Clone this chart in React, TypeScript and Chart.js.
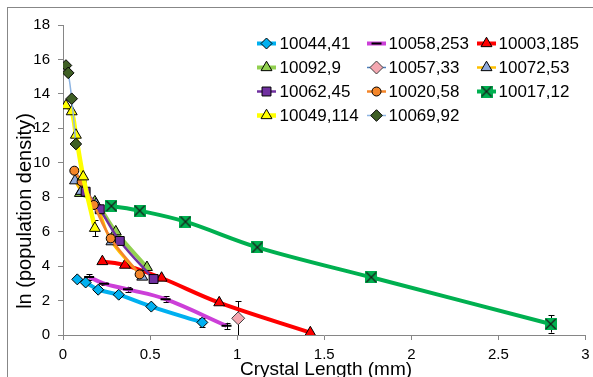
import React, { useEffect, useRef } from 'react';
import { Chart, registerables } from 'chart.js';
import { drawPoint } from 'chart.js/helpers';

Chart.register(...registerables);

const FONT = '"Liberation Sans", Arial, sans-serif';

const seriesNames = ['10044,41', '10058,253', '10003,185', '10092,9', '10057,33', '10072,53', '10062,45', '10020,58', '10017,12', '10049,114', '10069,92'];

const xTicks = [0, 0.5, 1, 1.5, 2, 2.5, 3];
const yTicks = [0, 2, 4, 6, 8, 10, 12, 14, 16, 18];

const x10044 = [0.082, 0.13, 0.202, 0.32, 0.507, 0.8];
const y10044 = [3.23, 3.05, 2.63, 2.34, 1.65, 0.73];
const e10044 = [0, 0, 0, 0, 0, 0.26];

const x10058 = [0.15, 0.236, 0.373, 0.589, 0.939];
const y10058 = [3.37, 2.98, 2.65, 2.08, 0.53];
const e10058 = [0.15, 0.1, 0.15, 0.17, 0.18];

const x10003 = [0.226, 0.356, 0.566, 0.897, 1.42];
const y10003 = [4.27, 4.06, 3.31, 1.88, 0.14];

const x10092 = [0.097, 0.183, 0.303, 0.482];
const y10092 = [8.23, 7.74, 6.0, 3.93];

const x10057 = [1.006];
const y10057 = [0.97];
const e10057 = [1.0];

const x10072 = [0.069, 0.105, 0.19, 0.278, 0.455];
const y10072 = [8.96, 8.35, 7.6, 5.42, 3.37];

const x10062 = [0.13, 0.211, 0.326, 0.52];
const y10062 = [8.32, 7.3, 5.46, 3.25];

const x10020 = [0.065, 0.107, 0.177, 0.274, 0.44];
const y10020 = [9.54, 8.9, 7.55, 5.61, 3.52];

const x10017 = [0.278, 0.44, 0.703, 1.116, 1.77, 2.8];
const y10017 = [7.49, 7.22, 6.58, 5.09, 3.35, 0.64];
const e10017 = [0, 0, 0, 0, 0, 0.5];

const x10049 = [0.017, 0.05, 0.074, 0.116, 0.183];
const y10049 = [13.32, 12.97, 11.61, 9.19, 6.2];
const e10049 = [0, 0, 0, 0, 0.45];

const x10069 = [0.017, 0.03, 0.05, 0.074];
const y10069 = [15.65, 15.22, 13.72, 11.09];

function pts(xs: number[], ys: number[]) {
  return xs.map((x, i) => ({ x, y: ys[i] }));
}

function makeXSquare(): HTMLCanvasElement {
  const c = document.createElement('canvas');
  c.width = 12;
  c.height = 12;
  const g = c.getContext('2d')!;
  g.fillStyle = '#00B050';
  g.fillRect(0, 0, 12, 12);
  g.strokeStyle = '#1a1a1a';
  g.lineWidth = 1.2;
  g.beginPath();
  g.moveTo(1, 1);
  g.lineTo(11, 11);
  g.moveTo(11, 1);
  g.lineTo(1, 11);
  g.stroke();
  return c;
}

export default function App() {
  const ref = useRef<HTMLCanvasElement | null>(null);

  useEffect(() => {
    document.body.style.margin = '0';
    const canvas = ref.current!;
    const xSquare = makeXSquare();

    const mk = (
      i: number,
      xs: number[],
      ys: number[],
      lineColor: string,
      lineWidth: number,
      style: any,
      fill: string,
      radius: number,
      errs?: number[],
      border = '#000000',
      bw = 1
    ) => ({
      label: seriesNames[i],
      data: pts(xs, ys),
      showLine: true,
      tension: 0.35,
      borderColor: lineColor,
      borderWidth: lineWidth,
      backgroundColor: fill,
      pointStyle: style,
      pointRadius: radius,
      pointBackgroundColor: fill,
      pointBorderColor: border,
      pointBorderWidth: bw,
      order: -i,
      errs: errs || [],
    });

    const datasets: any[] = [
      mk(0, x10044, y10044, '#00B0F0', 4, 'rectRot', '#00B0F0', 5.5, e10044),
      mk(1, x10058, y10058, '#CC3FD8', 4, 'line', '#000000', 5, e10058, '#000000', 2),
      mk(2, x10003, y10003, '#FF0000', 4, 'triangle', '#FF0000', 6.3),
      mk(3, x10092, y10092, '#92D050', 4, 'triangle', '#92D050', 6.3),
      mk(4, x10057, y10057, '#4F81BD', 1.5, 'rectRot', '#F4A7B0', 6.5, e10057, '#404040', 1),
      mk(5, x10072, y10072, '#FFC000', 2.5, 'triangle', '#8EA9DB', 6.3),
      mk(6, x10062, y10062, '#7030A0', 2.5, 'rect', '#7030A0', 6.3),
      mk(7, x10020, y10020, '#F4862A', 2.5, 'circle', '#F4862A', 4.5),
      mk(8, x10017, y10017, '#00B050', 4, xSquare, '#00B050', 6, e10017),
      mk(9, x10049, y10049, '#FFFF00', 4.5, 'triangle', '#FFFF00', 6.3, e10049),
      mk(10, x10069, y10069, '#8DB4E2', 1.5, 'rectRot', '#3F5F25', 5.8),
    ];

    const errorBars = {
      id: 'errorBars',
      beforeDatasetsDraw(chart: any) {
        const ctx = chart.ctx;
        const xs = chart.scales.x;
        const ys = chart.scales.y;
        ctx.save();
        ctx.strokeStyle = '#000000';
        ctx.lineWidth = 1;
        chart.data.datasets.forEach((ds: any) => {
          (ds.errs || []).forEach((e: number, j: number) => {
            if (!e) return;
            const p = ds.data[j];
            const px = Math.round(xs.getPixelForValue(p.x)) + 0.5;
            const y1 = ys.getPixelForValue(Math.max(0, p.y - e));
            const y2 = ys.getPixelForValue(p.y + e);
            ctx.beginPath();
            ctx.moveTo(px, y1);
            ctx.lineTo(px, y2);
            ctx.moveTo(px - 3, Math.round(y2) + 0.5);
            ctx.lineTo(px + 3, Math.round(y2) + 0.5);
            if (p.y - e > 0) {
              ctx.moveTo(px - 3, Math.round(y1) + 0.5);
              ctx.lineTo(px + 3, Math.round(y1) + 0.5);
            }
            ctx.stroke();
          });
        });
        ctx.restore();
      },
    };

    const decor = {
      id: 'decor',
      afterDraw(chart: any) {
        const ctx = chart.ctx;
        ctx.save();
        ctx.strokeStyle = '#878787';
        ctx.lineWidth = 1;
        ctx.strokeRect(7.5, 7.5, 700, 500);

        ctx.fillStyle = '#000000';
        ctx.font = `19px ${FONT}`;
        ctx.textAlign = 'center';
        ctx.textBaseline = 'alphabetic';
        ctx.fillText('Crystal Length (mm)', 326, 375);
        ctx.save();
        ctx.font = `20px ${FONT}`;
        ctx.translate(31, 211);
        ctx.rotate(-Math.PI / 2);
        ctx.fillText('ln (population density)', 0, 0);
        ctx.restore();

        const colIcon = [257, 367, 477];
        const colText = [279.5, 388.5, 498.5];
        ctx.font = `17px ${FONT}`;
        ctx.textAlign = 'left';
        ctx.textBaseline = 'middle';
        chart.data.datasets.forEach((ds: any, i: number) => {
          const col = i % 3;
          const row = Math.floor(i / 3);
          const y = 43.5 + row * 24;
          const x0 = colIcon[col];
          ctx.strokeStyle = ds.borderColor;
          ctx.lineWidth = ds.borderWidth;
          ctx.beginPath();
          ctx.moveTo(x0, y);
          ctx.lineTo(x0 + 19, y);
          ctx.stroke();
          ctx.fillStyle = ds.pointBackgroundColor;
          ctx.strokeStyle = ds.pointBorderColor;
          ctx.lineWidth = ds.pointBorderWidth;
          drawPoint(ctx, { pointStyle: ds.pointStyle, radius: ds.pointRadius, borderWidth: ds.pointBorderWidth, rotation: 0 }, x0 + 9.5, y);
          ctx.fillStyle = '#000000';
          ctx.fillText(ds.label, colText[col], y + 1);
        });
        ctx.restore();
      },
    };

    const axisCommon = {
      grid: { drawOnChartArea: false, drawTicks: true, tickLength: 5, color: '#868686' },
      border: { display: true, color: '#868686', width: 1 },
    };

    const chart = new Chart(canvas, {
      type: 'scatter',
      data: { datasets },
      options: {
        animation: false,
        responsive: false,
        devicePixelRatio: 1,
        layout: { padding: { left: 0, right: 5, top: 25, bottom: 0 } },
        plugins: { legend: { display: false }, tooltip: { enabled: false } },
        scales: {
          x: {
            type: 'linear',
            min: xTicks[0],
            max: xTicks[xTicks.length - 1],
            afterFit: (s: any) => { s.height = 42; s.paddingRight = 0; s.paddingLeft = 0; },
            afterBuildTicks: (s: any) => { s.ticks = xTicks.map((v) => ({ value: v })); },
            ticks: { font: { family: FONT, size: 15 }, color: '#000000', padding: 6, maxRotation: 0, autoSkip: false, callback: (v: any) => String(v) },
            ...axisCommon,
          },
          y: {
            type: 'linear',
            min: yTicks[0],
            max: yTicks[yTicks.length - 1],
            afterFit: (s: any) => { s.width = 63; s.paddingTop = 0; s.paddingBottom = 0; },
            afterBuildTicks: (s: any) => { s.ticks = yTicks.map((v) => ({ value: v })); },
            ticks: { font: { family: FONT, size: 15 }, color: '#000000', padding: 8, autoSkip: false, callback: (v: any) => String(v) },
            ...axisCommon,
          },
        },
      },
      plugins: [errorBars, decor],
    } as any);

    return () => chart.destroy();
  }, []);

  return <canvas ref={ref} width={593} height={377} style={{ display: 'block', width: 593, height: 377 }} />;
}
